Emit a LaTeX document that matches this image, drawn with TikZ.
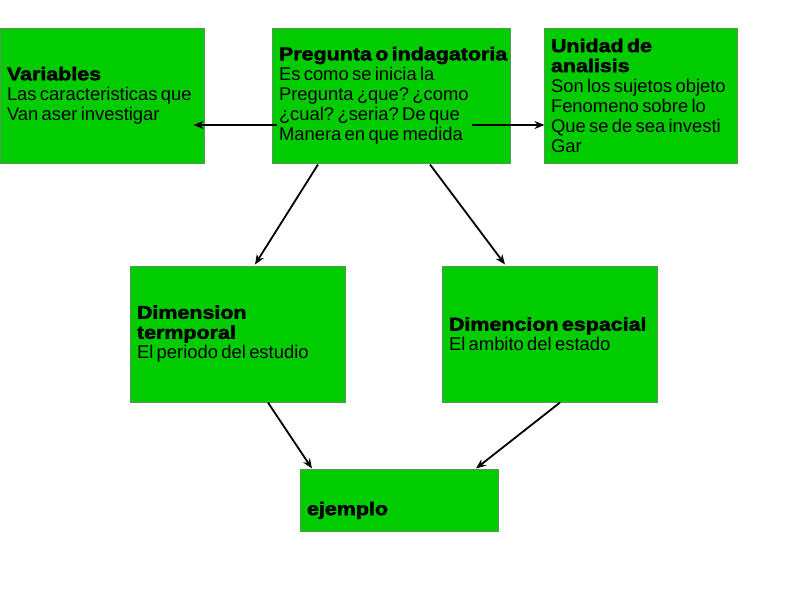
\documentclass[tikz,border=0pt]{standalone}
\usepackage{fontspec}
\setmainfont{Liberation Sans}[BoldFeatures={FakeStretch=1.165,FakeBold=2.5}]
\usepackage{tikz}
\usetikzlibrary{arrows,arrows.meta,shapes,positioning}
\usepackage{xcolor}
\definecolor{mgreen}{RGB}{0,204,0}
\definecolor{mborder}{RGB}{90,150,90}
\newcommand{\cajatexto}{\fontsize{18.4}{20}\selectfont\frenchspacing\hyphenpenalty=10000 \leftskip=7pt\relax}
\tikzstyle{caja} = [rectangle, draw=mborder, fill=mgreen, line width=1pt, inner xsep=0pt, align=left, execute at begin node=\cajatexto]
\tikzstyle{flecha} = [line width=1.8pt,-{Stealth[length=10pt,width=8pt]},color=black]

\begin{document}
\begin{tikzpicture}[x=1pt,y=-1pt]
\useasboundingbox (0,0) rectangle (794,595);
\node[caja, minimum width=204pt, minimum height=135pt, text width=204pt] (var) at (102,95.5) {\textbf{Variables}\\Las caracteristicas que\\Van aser investigar};
\node[caja, minimum width=238pt, minimum height=135pt, text width=238pt] (preg) at (391,95.5) {\textbf{Pregunta o indagatoria}\\Es como se inicia la\\Pregunta ¿que? ¿como\\¿cual? ¿seria? De que\\Manera en que medida};
\node[caja, minimum width=193pt, minimum height=135pt, text width=193pt] (uni) at (640.5,95.5) {\textbf{Unidad de}\\\textbf{analisis}\\Son los sujetos objeto\\Fenomeno sobre lo\\Que se de sea investi\\Gar};
\node[caja, minimum width=215pt, minimum height=136pt, text width=215pt] (tem) at (237.5,334) {\textbf{Dimension}\\\textbf{termporal}\\El periodo del estudio};
\node[caja, minimum width=215pt, minimum height=136pt, text width=215pt] (esp) at (549.5,334) {\textbf{Dimencion espacial}\\El ambito del estado};
\node[caja, minimum width=198pt, minimum height=62pt, text width=198pt] (eje) at (399,500) {\strut\\\textbf{ejemplo}};

\draw[flecha] ([xshift=5pt,yshift=-29.5pt]preg.west) -- ([xshift=-11pt,yshift=-29.5pt]var.east);
\draw[flecha] ([xshift=-39pt,yshift=-29.5pt]preg.east) -- ([xshift=1pt,yshift=-29.5pt]uni.west);
\draw[flecha] ([xshift=-73pt,yshift=-1pt]preg.south) -- ([xshift=17.5pt,yshift=1pt]tem.north);
\draw[flecha] ([xshift=39pt,yshift=-1pt]preg.south) -- ([xshift=-44.5pt,yshift=1pt]esp.north);
\draw[flecha] ([xshift=30.5pt]tem.south) -- ([xshift=-87pt]eje.north);
\draw[flecha] ([xshift=10.5pt]esp.south) -- ([xshift=77pt]eje.north);
\end{tikzpicture}
\end{document}
